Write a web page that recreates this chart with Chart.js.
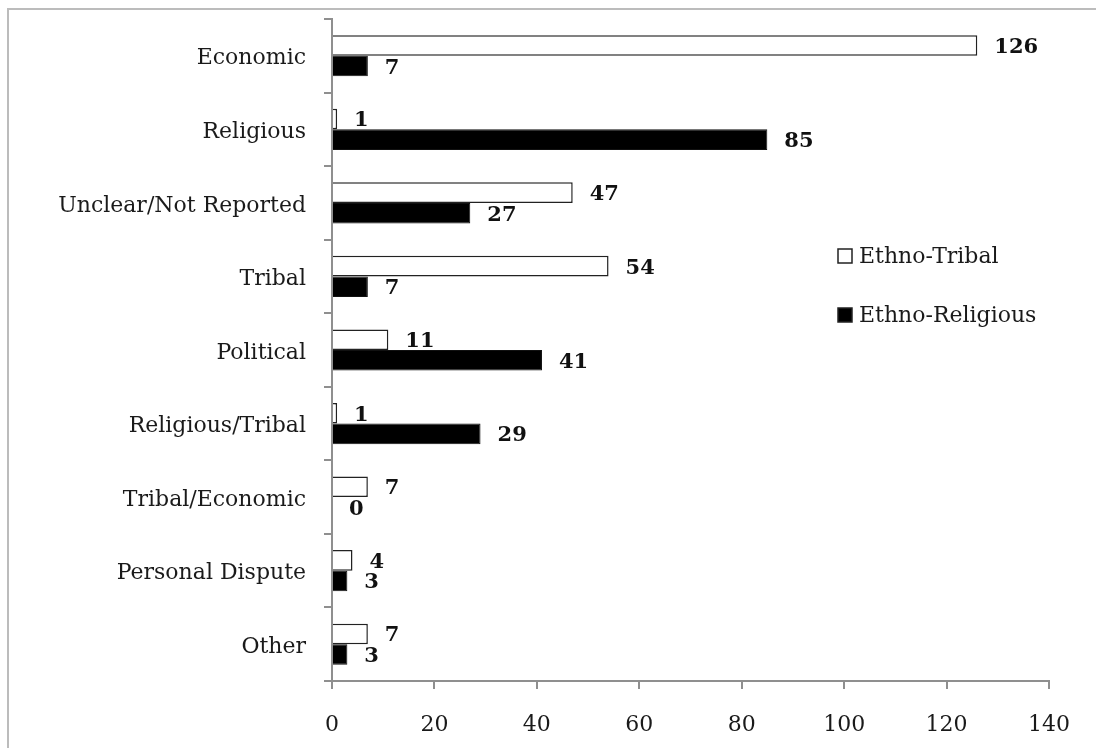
<!DOCTYPE html>
<html>
<head>
<meta charset="utf-8">
<script src="https://cdn.jsdelivr.net/npm/chart.js@4"></script>
<style>
  html, body { margin: 0; padding: 0; background: #fff; overflow: hidden; }
  #wrap { position: relative; width: 1096px; height: 748px; }
  #frame {
    position: absolute; left: 7px; top: 8px; width: 1200px; height: 900px;
    border: 2px solid #bcbcbc; box-sizing: border-box;
  }
  #chart { position: absolute; left: 0; top: 0; }
</style>
</head>
<body>
<div id="wrap">
  <div id="frame"></div>
  <canvas id="chart" width="1096" height="748"></canvas>
</div>
<script>
const categories = ['Economic', 'Religious', 'Unclear/Not Reported', 'Tribal', 'Political',
  'Religious/Tribal', 'Tribal/Economic', 'Personal Dispute', 'Other'];
const ethnoTribal = [126, 1, 47, 54, 11, 1, 7, 4, 7];
const ethnoReligious = [7, 85, 27, 7, 41, 29, 0, 3, 3];
const xTicks = [0, 20, 40, 60, 80, 100, 120, 140];

const serif = '"DejaVu Serif", serif';
const axisGray = '#8f8f8f';

// value labels just past the end of each bar
const barLabels = {
  id: 'barLabels',
  afterDatasetsDraw(chart) {
    const ctx = chart.ctx;
    ctx.save();
    ctx.font = 'bold 21px ' + serif;
    ctx.fillStyle = '#111';
    ctx.textAlign = 'left';
    ctx.textBaseline = 'middle';
    chart.data.datasets.forEach((ds, i) => {
      chart.getDatasetMeta(i).data.forEach((bar, j) => {
        ctx.fillText(String(ds.data[j]), bar.x + 17, bar.y + 2);
      });
    });
    ctx.restore();
  }
};

// legend sitting inside the plot, right side
const boxLegend = {
  id: 'boxLegend',
  afterDraw(chart) {
    const ctx = chart.ctx;
    const x = chart.chartArea.left + 506;
    const y0 = chart.chartArea.top + 237;
    ctx.save();
    ctx.font = '22px ' + serif;
    ctx.textBaseline = 'middle';
    chart.data.datasets.forEach((ds, i) => {
      const y = y0 + i * 59;
      ctx.fillStyle = ds.backgroundColor;
      ctx.fillRect(x, y - 7, 14, 14);
      ctx.strokeStyle = '#222';
      ctx.lineWidth = 1.5;
      ctx.strokeRect(x, y - 7, 14, 14);
      ctx.fillStyle = '#1a1a1a';
      ctx.fillText(ds.label, x + 21, y + 1);
    });
    ctx.restore();
  }
};

new Chart(document.getElementById('chart'), {
  type: 'bar',
  data: {
    labels: categories,
    datasets: [{
      label: 'Ethno-Tribal',
      data: ethnoTribal,
      backgroundColor: '#ffffff',
      borderColor: '#222',
      borderWidth: 1.5,
      categoryPercentage: 0.56,
      barPercentage: 1.0
    }, {
      label: 'Ethno-Religious',
      data: ethnoReligious,
      backgroundColor: '#000000',
      borderColor: '#111',
      borderWidth: 1,
      categoryPercentage: 0.56,
      barPercentage: 1.0
    }]
  },
  options: {
    indexAxis: 'y',
    responsive: false,
    animation: false,
    layout: { padding: { top: 19, right: 47, left: 0, bottom: 0 } },
    plugins: {
      legend: { display: false },
      tooltip: { enabled: false }
    },
    scales: {
      x: {
        min: 0,
        max: 140,
        afterBuildTicks(scale) {
          scale.ticks = xTicks.map(v => ({ value: v }));
        },
        afterFit(scale) { scale.height = 67; },
        border: { color: axisGray, width: 2 },
        grid: { drawOnChartArea: false, color: axisGray, lineWidth: 2, tickLength: 8 },
        ticks: { color: '#1a1a1a', font: { family: serif, size: 22 }, padding: 23 }
      },
      y: {
        afterFit(scale) {
          scale.width = 332;
          scale.paddingTop = 0;
          scale.paddingBottom = 0;
        },
        border: { color: axisGray, width: 2 },
        grid: { offset: true, drawOnChartArea: false, color: axisGray, lineWidth: 2, tickLength: 8 },
        ticks: { color: '#1a1a1a', font: { family: serif, size: 22 }, padding: 18, labelOffset: 3 }
      }
    }
  },
  plugins: [barLabels, boxLegend]
});
</script>
</body>
</html>
